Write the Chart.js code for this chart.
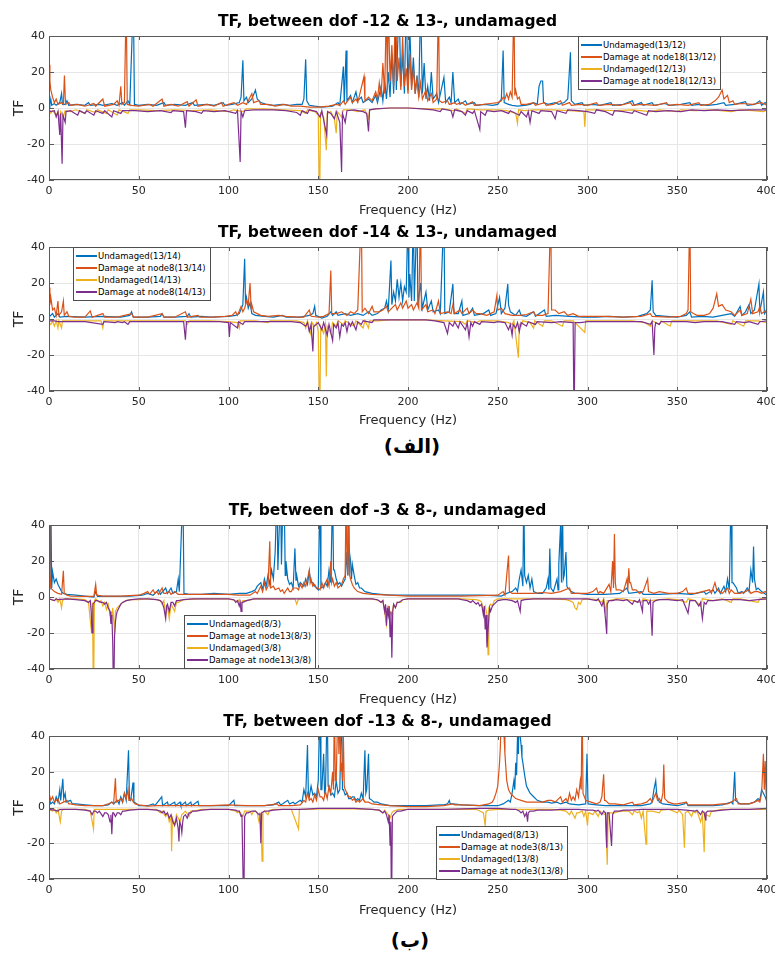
<!DOCTYPE html>
<html>
<head>
<meta charset="utf-8">
<script src="https://cdn.jsdelivr.net/npm/chart.js@4.4.1/dist/chart.umd.min.js"></script>
<style>
  body { margin: 0; background: #fff; width: 775px; height: 956px; position: relative; overflow: hidden; }
  canvas { position: absolute; left: 0; }
  .legend { position: absolute; background: #fff; border: 1px solid #4d4d4d; padding: 2px 4px 2px 2px;
            font: 8.5px "DejaVu Sans", sans-serif; color: #000; z-index: 2; }
  .row { height: 12px; line-height: 12px; white-space: nowrap; position: relative; padding-left: 22px; }
  .sw { position: absolute; left: 0; top: 5px; width: 21px; height: 2px; }
  .cap { position: absolute; width: 100px; text-align: center; font: bold 20px "DejaVu Sans", sans-serif; color: #000; }
</style>
</head>
<body>
<script>
// ---- data: flat [freq, TF, freq, TF, ...] ----
const xTicks = [0, 50, 100, 150, 200, 250, 300, 350, 400];
const yTicks = [-40, -20, 0, 20, 40];

// panel 1: dof 12 & 13
const p1Names = ['Undamaged(13/12)', 'Damage at node18(13/12)', 'Undamaged(12/13)', 'Damage at node18(12/13)'];
const p1Blue = [0,4, 0.5,2, 1,5, 1.5,1.5, 3,2.5, 4,1.5, 6,3, 7,8, 7.5,2, 9,2, 10,4, 11,1.5, 15,2, 20,1.5, 22,3, 23,1.5, 28,2, 30,1.5, 35,2.5, 38,1.5, 41,3, 42,1.5, 44,4, 45,2, 47,60, 47.6,2, 50,1.5, 55,2, 60,1.5, 64,3, 65,1.5, 70,2, 76,1.5, 80,3, 81,1.5, 88,2, 92,1.5, 97,3, 98,1.5, 102,2, 106,3, 107,6, 108,26.5, 108.6,4, 110,6, 111,3, 113,5, 115,10, 116,5, 118,3, 121,2, 125,1.5, 130,2, 134,1.5, 138,2, 141,2, 142,5, 143,27, 143.6,4, 145,1.5, 148,1, 152,0.5, 158,1, 161,3, 162,1.5, 164,23, 164.5,3, 165.5,32, 166,4, 168,7, 169,3, 171,9, 172,4, 174,6, 175,3, 178,5, 180,3, 182,7, 183,3, 185,12, 186,4, 187,15, 188,5, 189,20, 190,6, 191,30, 192,8, 193,40, 193.5,10, 195,60, 196,12, 197,30, 198,8, 199,60, 200,10, 201,45, 202,12, 203,28, 204,8, 205,18, 206,6, 207,60, 208,8, 209,25, 210,5, 211,12, 212,4, 213,20, 214,5, 216,8, 217,3, 220,17, 221,3, 223,6, 224,3, 225,20, 226,3, 228,5, 229,2, 232,4, 233,2, 237,3, 238,1.5, 243,2, 247,1.5, 250,2, 252,5, 253,32, 253.6,3, 256,2, 258,1.5, 261,1, 265,1.5, 268,2, 270,3, 272,2, 273,12, 274,15, 275,15, 275.5,3, 278,2, 282,3, 284,2, 287,3, 289,5, 290.5,31, 291,4, 293,2, 297,3, 298,1.5, 303,2, 307,1.5, 313,3, 314,1.5, 320,2, 325,4, 326,1.5, 330,3, 331,1.5, 336,3, 337,1.5, 343,2.5, 346,1.5, 352,2, 357,3, 358,1.5, 362,2, 367,1.5, 372,2, 376,3, 377,1.5, 382,2, 388,3.5, 389,1.5, 393,2, 396,4, 397,1.5, 399,3, 400,2];
const p1Orange = [0,24, 0.5,15, 1,10, 2,6, 3,3, 4,5, 5,2, 7,3, 8,2, 8.6,18, 9.2,2, 11,3, 12,1.5, 16,2, 20,1, 25,2.5, 26,1, 30,5, 31,1, 36,2, 38,4, 39,1.5, 40,12, 40.6,2, 42,3, 43,60, 43.6,2, 46,1.5, 50,1, 56,2, 58,1, 63,5, 64,1, 68,2, 72,1, 77,3.5, 78,1, 82,4.5, 83,1, 88,2, 92,1, 96,3, 97,1, 100,2, 103,3, 105,1.5, 108,3, 110,2, 113,8, 114,3, 117,4, 118,2, 122,2, 126,1, 131,2, 135,1, 140,1, 145,0.5, 150,0.5, 156,1, 160,2, 162,1.5, 164,4, 165,2, 168,6, 169,3, 171,5, 172,3, 175.5,17.5, 176,4, 178,6, 180,4, 182,9, 183,5, 184,14, 185,6, 186,25, 187,8, 188,60, 188.5,10, 189,60, 190,15, 191,35, 192,12, 193,60, 194,15, 195,28, 196,10, 197,40, 198,12, 199,22, 200,8, 201,30, 202,10, 203,22, 204,8, 205,16, 206,6, 207,14, 208,5, 210,10, 211,4, 213,8, 214,3, 216,5, 217,60, 217.5,4, 219,3, 222,4, 223,2, 226,3, 227,2, 230,3, 232,1.5, 236,3.5, 237,1.5, 242,2, 246,2.5, 250,3, 252,4, 253,6, 254,5, 255,8, 256,5, 257,9, 258,6, 259,60, 259.5,7, 260,10, 261,5, 262,6, 263,2, 266,2, 270,3, 271,1.5, 276,3, 277,1.5, 281,2, 285,4, 286,1.5, 290,3, 291,1.5, 296,2, 300,1.5, 305,3, 306,1.5, 312,2, 318,1.5, 324,3, 325,1.5, 330,2, 338,1.5, 344,3, 345,1.5, 350,2, 356,1.5, 362,3, 363,1.5, 368,2, 371,4, 373,6, 375,10, 376,5, 378,7, 379,3, 381,4, 382,2, 386,2.5, 392,2, 397,3, 400,1.5];
const p1Yellow = [0,-2, 1,-3, 2,-1.5, 4,-4, 5,-2, 6,-7, 6.5,-2, 8,-5, 9,-1.5, 12,-2, 15,-1, 20,-3, 21,-1, 26,-2.5, 27,-1, 32,-3, 33,-1, 38,-4, 39,-1, 44,-3, 45,-1, 50,-1, 60,-1.5, 70,-1, 80,-1.5, 90,-1, 100,-2, 103,-1, 108,-2, 110,-0.5, 120,-0.5, 130,-1, 140,-1.5, 143,-3, 144,-1, 148,-2, 150,-4, 150.7,-60, 151.3,-3, 153,-5, 154.5,-23.5, 155,-3, 157,-2, 159,-6, 160,-14, 160.6,-2, 163,-5, 164,-1, 168,-1, 172,-2, 176,-1, 178,-6, 178.6,-1, 182,-0.5, 190,0, 200,0, 210,-0.5, 220,-0.5, 225,-1.5, 227,-0.5, 232,-3, 233,-0.5, 240,-1, 250,-1, 255,-1.5, 260,-3, 261,-8.5, 261.6,-1, 265,-1.5, 270,-1, 280,-1, 290,-1.5, 298,-2, 298.5,-10.5, 299,-1, 305,-1, 315,-1.5, 325,-1, 335,-2, 340,-1, 350,-2, 352,-1, 360,-1.5, 370,-1, 380,-2, 385,-1, 392,-1.5, 398,-2, 400,-1];
const p1Purple = [0,-1, 1,-2, 3,-1.5, 4,-5, 5,-2, 6,-15, 6.5,-3, 7.3,-31, 7.8,-4, 9,-8, 9.5,-2, 12,-1.5, 16,-4, 17,-1.5, 20,-3, 21,-1.5, 25,-4, 26,-1.5, 30,-3, 31,-1.5, 35,-5, 36,-1.5, 40,-3, 41,-1.5, 48,-1.5, 55,-2, 62,-1.5, 68,-2.5, 69,-1.5, 75,-2, 76,-11, 76.6,-1.5, 82,-2, 85,-3, 86,-1.5, 92,-2, 98,-1.5, 104,-3, 105,-1.5, 106.5,-30, 107,-2, 108,-5, 109,-1.5, 114,-1, 118,-1, 125,-1, 132,-1.5, 138,-2.5, 140,-4, 141,-1.5, 144,-3, 145,-1, 149,-2, 151,-5, 152,-1.5, 154.7,-15, 155.2,-2, 157,-3, 159,-6, 160,-2, 162,-8, 163,-35.5, 163.5,-3, 165,-8, 166,-1.5, 170,-1, 175,-2, 177,-3, 178,-13, 178.6,-1, 182,-0.5, 190,0, 200,0, 208,-0.5, 214,-1, 218,-2, 219,-0.5, 224,-1.5, 225,-5, 226,-1, 230,-2, 232,-4, 233,-1.5, 236,-3, 237,-1.5, 240,-12, 240.5,-2, 243,-4, 244,-1.5, 248,-2, 252,-1.5, 256,-3, 257,-1.5, 262,-4, 263,-2, 266,-5, 267,-2, 268,-8, 269,-1.5, 273,-3, 274,-1.5, 280,-2, 282,-6, 283,-1.5, 288,-3, 289,-1, 295,-1.5, 300,-2, 304,-3, 305,-1, 310,-2, 314,-4, 315,-1.5, 320,-2, 325,-3, 326,-1.5, 333,-4, 334,-1.5, 338,-2, 345,-1.5, 352,-2, 358,-1, 365,-1.5, 372,-1, 380,-1.5, 390,-1, 400,-1];

// panel 2: dof 14 & 13
const p2Names = ['Undamaged(13/14)', 'Damage at node8(13/14)', 'Undamaged(14/13)', 'Damage at node8(14/13)'];
const p2Blue = [0,1, 2,3, 3,1, 5,3, 6,1, 10,1.5, 20,1, 30,1.5, 40,1, 45,2, 46,4, 47,1, 55,1, 62,1.5, 63,3, 64,1, 70,1, 77,1.5, 78,3, 79,1, 85,1.5, 90,1, 100,1.5, 104,2, 106,3, 108,8, 109,33.5, 109.5,8, 110,12, 111,6, 112,9, 113,3, 115,2, 120,1.5, 125,1, 130,2, 132,1, 140,1, 145,2, 147,3, 148,7, 148.6,2, 152,0.5, 155,1.5, 157,4, 158,2, 160,4, 161,2, 165,3, 168,2, 172,3, 175,2, 178,4, 180,2, 183,3, 185,5, 187,6, 188,10, 189,5, 190.5,32.5, 191,8, 192,15, 193,10, 194,22, 195,12, 196,20, 197,10, 198,18, 199,15, 200,60, 200.5,12, 201,25, 202,10, 203,60, 203.5,10, 205,60, 205.5,8, 207,20, 208,6, 210,15, 211,5, 213,10, 214,4, 217,5, 218,3, 220,60, 220.5,3, 223,4, 225,19.5, 225.6,3, 228,3, 230,10, 230.6,2, 234,3, 236,6, 237,2, 242,3, 245,5, 246,2, 249,3, 251,12, 252,3, 254,6, 255.6,19.5, 256,8, 257,4, 260,2, 262,5, 263,2, 266,1.5, 270,4, 271,1.5, 276,5, 277,1.5, 282,2, 290,1.5, 298,1, 305,1, 312,1.5, 320,1, 328,1.5, 333,3, 335,5, 336,21.5, 336.6,4, 338,2, 344,1.5, 350,1, 355,2, 357,4, 358,1, 364,1.5, 370,1, 375,2, 380,3, 382,1.5, 385,7, 386,2, 388,4, 390,8, 391,3, 393,5, 395.5,19.5, 396,4, 398,15, 398.6,3, 400,5];
const p2Orange = [0,17.5, 0.5,8, 1,12, 2,5, 3,6, 4,2, 5,10, 5.5,2, 7,4, 8,10, 8.5,2, 10,4, 11,1.5, 14,1, 20,1, 23,4.5, 24,1, 30,3, 31,1, 38,1, 46,3, 47,1, 55,1, 63,3, 64,1, 70,1, 76,4, 77,1, 83,2, 84,1, 92,1, 98,1.5, 102,2, 104,4, 105,2, 107,7, 108,4, 109,6, 110,10, 111,8, 112,20, 112.6,6, 113,8, 114,4, 116,3, 118,2, 122,1.5, 128,2, 132,1.5, 138,1, 142,1, 145,5, 146,1.5, 150,1, 153,1.5, 156,3, 157,27, 157.5,3, 160,3, 163,4, 166,2, 168,4, 170,3, 172,5, 174,60, 174.5,4, 176,6, 178,3, 180,7, 181,4, 184,4, 186,5, 188,7, 189,4, 191,6, 193,8, 194,5, 196,9, 197,6, 199,10, 200,6, 202,8, 203,5, 205,9, 206,6, 207,60, 207.5,5, 210,8, 211,4, 214,5, 215,3, 217,10, 218,3, 222,4, 224,3, 225,8, 226,3, 229,5, 230,3, 233,6, 234,3, 236,5, 238,3, 240,3, 244,2, 248,4, 249.5,13, 250,5, 252,6, 254,3, 258,2, 262,2, 266,2.5, 270,4, 271,2, 275,2, 278,3, 279.5,60, 280,5, 282,5, 284,3, 287,4, 289,2, 292,3, 295,1.5, 300,1.5, 310,1.5, 320,1, 330,1.5, 335,3, 336,1.5, 345,1, 352,1.5, 355,3, 356,5, 357,60, 357.5,4, 359,3, 361,2, 365,2, 368,3, 370,6, 372,14, 373,7, 375,8, 377,5, 380,4, 382,2, 385,5, 386,2, 389,3, 391,11, 392,3, 395,4, 396,7, 397,3, 400,5];
const p2Yellow = [0,-2, 1,-3, 2,-1, 3,-4, 4,-1, 5,-5, 5.5,-1, 7,-5, 7.5,-1, 10,-1, 20,-1, 29,-1, 30,-5, 30.5,-1, 40,-1, 50,-1, 60,-1, 70,-1, 76,-1, 77,-3, 78,-1, 90,-1, 100,-1.5, 105,-2, 106,-5, 106.5,-1, 115,-1, 122,-2, 123,-1, 130,-1, 138,-1, 142,-2, 143,-5, 144,-1, 146,-9, 146.6,-2, 148,-4, 149,-2, 150,-7, 150.8,-60, 151.4,-4, 153,-8, 154,-3, 154.5,-32, 155,-4, 157,-8, 158,-2, 160,-4, 161,-1, 164,-3, 165,-1, 170,-4, 171,-1, 175,-5, 176,-1, 178,-5, 178.6,-1, 183,-1, 190,-0.5, 200,-0.5, 210,-0.5, 220,-1, 230,-1.5, 232,-3, 233,-1, 238,-2, 240,-1, 250,-1, 256,-2, 258,-3, 259,-1, 261.5,-21.5, 262,-3, 263,-4, 264,-1, 268,-2, 270,-5, 270.6,-1, 275,-4, 276,-1, 280,-1, 286,-4, 287,-1, 292,-1, 298.5,-7.5, 299,-1, 305,-1, 315,-1, 325,-1, 332,-2, 335,-4, 336,-1, 340,-3, 341,-1, 346,-4, 347,-1, 355,-1, 365,-1, 372,-1, 380,-3, 381,-1, 387,-4, 388,-1, 395,-1, 400,-2];
const p2Purple = [0,-1, 3,-1, 5,-1.5, 10,-1.5, 20,-1.5, 30,-3, 30.6,-1.5, 37,-2, 38,-1.5, 41,-2, 42,-1.5, 44,-3, 45,-1.5, 55,-1.5, 65,-1.5, 75,-1.5, 76,-11.5, 76.6,-1.5, 85,-1.5, 95,-1.5, 100,-2, 100.5,-10, 101,-2, 105,-5, 105.6,-1.5, 108,-3, 109,-1.5, 115,-1.5, 125,-1.5, 135,-1.5, 140,-2, 143,-4, 144,-2, 145,-7, 146,-3, 147,-18, 147.5,-4, 149,-3, 150,-2, 152,-6, 153,-2, 155,-9, 156,-3, 158,-12, 158.6,-3, 160,-5, 161,-2, 162,-10, 163,-3, 164,-4, 165,-2, 166,-7, 167,-2, 168,-4, 169,-1.5, 171,-6, 172,-1.5, 174,-3, 175,-1, 180,-2, 181,-0.5, 190,-0.5, 200,-0.5, 210,-0.5, 215,-1, 220,-2, 222,-8, 223,-2, 225,-4, 226,-1.5, 228,-5, 229,-1.5, 232,-6, 233,-2, 234,-10, 235,-2, 236,-4, 237,-1.5, 240,-3, 241,-1.5, 248,-2, 250,-1.5, 254,-2, 256,-6, 257,-3, 258,-9, 258.6,-3, 260,-5, 261,-2, 262,-7, 263,-2, 266,-4, 267,-1.5, 271,-3, 272,-1.5, 280,-2, 285,-1.5, 292,-2, 292.5,-60, 293.1,-2, 296,-2, 300,-1.5, 310,-1.5, 320,-1.5, 330,-1.5, 335,-3, 336,-1.5, 337,-20, 337.5,-5, 338,-2, 340,-3, 341,-1.5, 350,-1.5, 355,-1.5, 360,-2, 365,-1.5, 375,-1.5, 382,-3, 383,-1.5, 388,-2, 390,-1.5, 395,-3, 396,-1.5, 400,-1];

// panel 3: dof 3 & 8
const p3Names = ['Undamaged(8/3)', 'Damage at node13(8/3)', 'Undamaged(3/8)', 'Damage at node13(3/8)'];
const p3Blue = [0,10, 0.5,4, 1,60, 1.5,5, 2,14, 3,8, 4,10, 5,7, 6,5, 7,3, 8,2, 10,1.5, 15,1, 20,0.5, 25,0, 26,3, 27,0.3, 35,0.3, 45,0.5, 52,1, 55,2, 58,1, 61,4, 62,1.5, 65,5, 66,2, 68,5, 69,2, 71,3, 72,10, 72.6,3, 74.6,60, 75.2,2, 78,1.5, 85,1.5, 92,2, 100,1.5, 106,2, 110,2, 113,3, 115,4, 116,6, 118,8, 119,4, 120,10, 121,6, 122,12, 123,7, 124,15, 125,10, 126,25, 127,60, 127.5,15, 128,30, 129,60, 129.5,18, 130,40, 131,60, 131.6,12, 132,20, 133,10, 134,7, 135,8, 136,5, 137,27, 137.6,9, 138,12, 139,6, 140,8, 142,6, 143,10, 144,7, 145,14, 146,8, 147,8, 148,6, 149,5, 150,4, 151,60, 151.5,5, 152,5, 153,6, 154,8, 155,6, 156,15, 157,8, 158,60, 158.5,15, 159,15, 160,10, 161,7, 162,8, 163,6, 164,8, 165,10, 166,25, 166.5,12, 167,28, 168,20, 168.5,10, 169,18, 170,12, 171,7, 172,8, 173,5, 174,5, 176,3, 180,2, 185,1.5, 190,1, 200,1, 210,1, 220,1, 230,1, 240,1, 248,0.8, 252,0.5, 255,2, 258,3, 260,5, 261,3, 262,10, 263,15, 264,6, 264.5,60, 265,12, 266,8, 267,12, 268,5, 269,10, 270,3, 272,2, 275,2, 277,5, 278,10, 278.5,4, 279,27, 279.6,5, 281,3, 283,10, 283.6,4, 284,18, 285,40, 285.5,8, 286,60, 286.5,10, 287,12, 288,25, 288.5,6, 289,5, 291,3, 293,2, 295,2, 300,1.5, 310,1.5, 318,2, 322,5, 323,2, 330,3, 331,1.5, 340,1.5, 350,2, 358,1.5, 365,3, 366,1.5, 370,4, 371,2, 373,5, 374,2, 376,6, 377,3, 378,10, 379,4, 380,60, 380.5,8, 381,8, 383,5, 384,2, 386,3, 387,2, 389,5, 390,3, 391,15, 392,8, 392.5,28, 393,10, 394,4, 395,5, 397,3, 400,1];
const p3Orange = [0,60, 0.5,14, 1,5, 2,4, 3,3, 5,2, 7,1.5, 8,14.6, 8.5,2, 10,1, 12,0.5, 20,0.3, 25,0.3, 26,7, 26.6,1, 30,0.5, 40,0.5, 50,1, 53,2, 55,3, 56,1.5, 58,4, 59,2, 60,3, 61,1.5, 63,5, 64,2, 65,2, 67,3, 68,1.5, 70,3, 72,1.5, 75,1.5, 80,1.5, 90,1.5, 100,1.5, 105,1, 110,1, 112,1, 115,3, 116,2, 118,6, 119,3, 120,8, 121,4, 122,6, 123,31, 123.5,5, 125,6, 126,4, 128,5, 129,3, 130,4, 131,2, 133,5, 134,3, 135,3, 136,5, 138,5, 139,4, 140,7, 141,5, 142,8, 143,6, 144,10, 145,15, 145.5,8, 146,10, 147,6, 148,7, 149,5, 150,5, 151,4, 152,8, 153,5, 155,10, 156,6, 157,20, 157.5,8, 158,10, 159,6, 160,8, 161,5, 162,6, 163,7, 164,10, 165,12, 165.5,60, 166,20, 166.5,12, 167,60, 167.5,12, 168,10, 169,7, 170,5, 171,4, 172,3, 175,2, 180,1.5, 190,1, 200,0.5, 210,0.5, 220,0.5, 230,0.5, 240,0.8, 250,1, 253,3, 254,1, 256,23, 256.5,3, 258,2, 260,2, 265,2, 270,2, 275,2.5, 280,2, 285,3, 290,5, 291,2, 295,2, 300,2, 303,3, 305,5, 306,2, 307,3, 309,2, 312,7, 313,3, 314,20, 314.5,5, 315,35, 315.5,8, 316,4, 318,4, 320,3, 322,10, 322.5,4, 323,16, 323.5,8, 324,8, 325,4, 327,4, 329,2, 331,3, 333.5,10, 334,3, 337,2, 340,3, 345,2, 350,2, 353,3, 355,5, 356,2, 360,2, 364,3, 368,4, 369,2, 371,8, 372,4, 375,2, 378,5, 379,2, 380,4, 382,2, 385,2, 388,3, 390,4, 391,2, 393,3, 395,3, 397,2, 399,3, 400,2];
const p3Yellow = [0,-1, 3,-2, 4,-1, 5,-3, 6,-1, 7,-6, 7.5,-2, 9,-1, 15,-1, 20,-1.5, 22,-3, 23.7,-20, 24.2,-3, 24.8,-60, 25.3,-2, 26,-1, 28,-3, 29,-2, 30,-5, 31,-3, 32,-7, 33,-4, 34,-10, 35,-12, 35.5,-6, 36.6,-20, 37,-8, 38,-6, 39,-5, 40,-4, 41,-3, 43,-2, 45,-1.5, 50,-1.5, 55,-1, 60,-1.5, 62,-2, 63,-4, 64,-2, 65,-10, 66,-5, 67,-12, 68,-4, 69,-6, 70,-8, 71,-3, 72,-3, 74,-2, 75,-1.5, 85,-1, 95,-1, 100,-1, 104,-2, 105,-3, 106,-1.5, 107,-5, 108,-2, 110,-2, 115,-1, 125,-1, 130,-1, 137,-1, 138,-4, 139,-1, 150,-1, 160,-1, 170,-1, 180,-1, 184,-2, 185,-3, 186,-2, 188,-15, 188.6,-5, 189,-5, 190,-8, 191,-10, 192,-4, 193,-6, 194,-3, 196,-3, 197,-1.5, 200,-1, 210,-1, 220,-1, 230,-1, 238,-1.5, 240,-2, 241,-3, 242,-8, 243,-5, 244,-10, 244.6,-32, 245,-6, 246,-4, 247,-5, 248,-2, 250,-1, 255,-1, 260,-1, 270,-1, 280,-1, 288,-1.5, 290,-2, 292,-3, 293,-6, 294,-7, 295,-3, 296,-4, 297,-1.5, 300,-1, 305,-1.5, 308,-3, 309,-1, 310,-8, 311,-2, 312,-2, 316,-1, 320,-1, 325,-2, 330,-3, 331,-1, 335,-2, 340,-1.5, 345,-1, 350,-1.5, 355,-3, 356,-1, 360,-2, 363,-5, 364,-1, 370,-2, 375,-1, 380,-3, 381,-1, 385,-1, 390,-2, 395,-3, 396,-1, 400,-1];
const p3Purple = [0,-1, 3,-2, 4,-1, 5,-1.5, 10,-1, 15,-1.5, 20,-2, 22,-3, 23,-2, 23.5,-8, 24,-20, 24.5,-4, 26,-2, 27,-2, 29,-3, 30,-3, 31,-4, 32,-3, 33,-6, 34,-8, 34.5,-15, 35,-10, 35.5,-25, 36,-60, 36.5,-22, 37,-14, 37.5,-10, 38,-8, 39,-6, 40,-4, 41,-3, 43,-2, 46,-1.5, 50,-1, 55,-1, 60,-1.5, 62,-2, 63,-3, 64,-6, 65,-12, 65.5,-5, 66,-4, 67,-8, 68,-3, 69,-3, 70,-5, 71,-2, 72,-2, 75,-1.5, 80,-1, 90,-1, 100,-1, 103,-1.5, 104,-3, 105,-2, 106,-5, 106.5,-3, 107,-8, 107.5,-3, 108,-3, 110,-2, 114,-1, 120,-1, 130,-1, 140,-1, 150,-1, 160,-1, 170,-1, 180,-1, 183,-1.5, 185,-3, 186,-2, 187,-8, 187.5,-4, 188,-16, 188.5,-6, 189,-10, 189.5,-5, 190,-22, 190.5,-8, 191,-33.7, 191.5,-8, 192,-4, 193,-6, 194,-3, 195,-3, 197,-1.5, 200,-1, 210,-1, 220,-1, 228,-1, 230,-1.5, 233,-2, 235,-3, 236,-2, 238,-4, 239,-3, 240,-5, 241,-4, 242,-10, 242.5,-5, 243,-18, 243.5,-10, 244,-28, 244.5,-20, 245,-12, 245.5,-6, 246,-8, 247,-5, 248,-4, 249,-3, 250,-2, 253,-1.5, 255,-1.5, 258,-2, 260,-3, 261,-2, 262.5,-8, 263,-2, 265,-1.5, 270,-1, 280,-1, 290,-1, 300,-1, 305,-2, 306,-1, 308,-5, 309,-2, 310,-12, 310.7,-20.5, 311,-4, 312,-2, 314,-2, 316,-1.5, 320,-2, 322,-1.5, 325,-4, 326,-2, 328,-3, 329,-1.5, 330.6,-8, 331,-2, 333,-2, 334,-4, 335,-2, 336,-21.5, 336.5,-3, 338,-2, 340,-1.5, 345,-1.5, 350,-2, 353,-1.5, 356,-9, 357,-2, 360,-2, 362,-5, 363,-3, 364,-12, 365,-3, 366,-4, 367,-2, 370,-2, 375,-1.5, 380,-1.5, 385,-1.5, 390,-2, 395,-1.5, 400,-1];

// panel 4: dof 13 & 8
const p4Names = ['Undamaged(8/13)', 'Damage at node3(8/13)', 'Undamaged(13/8)', 'Damage at node3(13/8)'];
const p4Blue = [0,5, 1,2, 2,3, 3,2, 4,6, 5,3, 6,10, 6.5,4, 7.7,16, 8.2,5, 9,8, 9.5,3, 10,3, 12,4, 13,2, 15,2, 20,1.5, 25,1, 30,1, 33,1.5, 35,3, 36,2, 38,4, 39,2, 40,6, 41,3, 42,8, 43,4, 44.3,32, 44.8,5, 45.5,4, 46.8,14, 47.3,3, 49,2, 50,1, 55,1, 58,2, 59,1, 62.8,6, 63.3,1, 66,3, 66.5,1, 70,3, 70.5,1, 73,3, 73.5,1, 76,3, 76.5,1, 79,3, 79.5,1, 83,3.5, 83.5,1, 90,1, 100,1, 103,4, 103.5,1, 110,1, 120,1, 125,1.5, 128,3, 129,1.5, 130,2, 133,4, 134,2, 136,3, 137,2, 140,4, 141,3, 142,10, 143,6, 144,35, 144.5,8, 145,6, 146,12, 147,7, 148,8, 149,6, 150,15, 151,60, 151.5,10, 152,10, 153,30, 153.5,8, 154,8, 155,60, 155.5,12, 156,12, 157,7, 158,8, 159,6, 160,15, 161,8, 162,10, 163,60, 163.5,10, 164,10, 165,7, 166,8, 167,5, 168,5, 169,6, 170,6, 171,4, 172,5, 173,4, 174,8, 175,5, 176,32, 176.5,8, 177,10, 178,30, 178.5,5, 180,4, 181,3, 183,3, 185,2, 190,1, 200,1, 210,1, 218,1.5, 220,1.5, 222,2, 223,4, 223.5,2, 225,2, 230,1.5, 240,1, 248,1, 250,1, 253,2, 256,4, 257,3, 258,8, 259,15, 259.5,10, 260,25, 260.5,18, 261,40, 261.5,30, 262,60, 262.5,40, 263,35, 263.5,28, 264,25, 265,18, 266,12, 267,10, 268,8, 270,6, 272,4, 275,3, 278,3, 280,2.5, 283,3, 285,2, 288,3, 290,2, 295,1.5, 299,2, 299.7,30, 300.3,2, 305,1.5, 310,1, 320,1, 330,1, 335,2, 336,3, 337,10, 338,15, 338.5,8, 339,6, 340,3, 342,2, 350,1, 354,2, 355,3, 356,1, 360,1, 370,1, 375,1.5, 380,3, 381,2, 382,20, 382.5,4, 385,2, 390,2, 393,3, 395,5, 396,4, 397,10, 398,8, 399,6, 400,3];
const p4Orange = [0,8, 1,4, 2,6, 3,3, 5,5, 6,2, 8,3, 10,4, 11,2, 12,2, 15,1.5, 20,1, 25,1, 30,1, 33,2, 35,3, 36,2, 37,16.4, 37.5,3, 39,4, 40,5, 41,3, 42,8, 43,5, 44,10, 44.5,4, 45,4, 46,5, 47,3, 48,2, 50,1.5, 55,0.8, 60,1, 70,1, 80,1, 90,1, 100,1.5, 110,1, 120,1, 127,2, 128,1, 135,1, 140,1.5, 142,4, 143,3, 144,8, 145,4, 146,5, 147,3, 148,7, 149,4, 150,10, 151,6, 152,6, 153,4, 154,9, 155,5, 156,12, 157,8, 158,20, 158.5,10, 159,60, 159.5,15, 160,15, 161,60, 161.5,30, 162,60, 162.5,20, 163,25, 163.5,15, 164,40, 164.5,12, 165,10, 166,8, 167,6, 168,6, 169,4, 170,5, 171,3, 172,4, 173,3, 175,5, 176,3, 178,3, 180,2, 185,1.5, 190,1, 200,0.5, 210,0.5, 220,1, 225,2, 226,1.5, 230,1.5, 240,1, 245,2, 247,3, 248,5, 249,8, 250,12, 251,25, 251.5,35, 252,60, 253,60, 253.5,40, 254,30, 255,15, 256,10, 257,8, 258,7, 260,5, 263,4, 266,3, 270,3, 275,3, 278,4, 280,4, 282,3, 285,6, 286,3, 288,5, 289,3, 290,8, 291,4, 292,6, 293,4, 294,10, 295,6, 296,15, 296.5,10, 297,60, 297.5,8, 299,4, 302,3, 305,2, 307,3, 308,6, 309,18.6, 309.5,4, 310,4, 312,2, 315,2, 320,1.5, 325,3, 326,1.5, 330,2, 333,3, 335,5, 336,3, 338,8, 339,4, 340,5, 341,3, 342,8, 342.5,24, 343,5, 345,3, 348,2, 350,2, 355,3, 356,1.5, 360,1.5, 365,1.5, 370,1.5, 375,2, 378,2, 380,3, 383,5, 384,2, 385,2, 390,2, 393,3, 395,4, 396,3, 397,8, 398,30, 398.5,10, 399,26, 399.5,8, 400,5];
const p4Yellow = [0,-1, 2,-2, 3,-1, 4,-3, 5,-1, 6.3,-8, 7,-2, 8,-1, 10,-1, 15,-1, 20,-1, 23,-2, 24.8,-12, 25.2,-1, 30,-1, 35,-1, 40,-1, 50,-1, 60,-1, 62,-3, 63,-2, 65,-5, 66,-3, 67,-8, 68,-6, 68.3,-24.5, 68.8,-6, 69.5,-8, 70,-10, 71,-4, 72,-6, 73,-8, 74,-4, 75,-3, 76,-2, 78,-5, 79,-2, 80,-2, 83,-1.5, 85,-1, 90,-1, 100,-1, 104,-2, 105,-3, 106,-2, 108,-5, 109,-2, 110,-2, 112,-2, 113,-4, 114,-2, 115,-2, 116,-3, 117,-8, 118,-4, 118.7,-30, 119.2,-3, 120,-2, 122,-4, 123,-1.5, 125,-1, 130,-1, 135,-1, 139,-12, 139.5,-1, 145,-1, 150,-0.8, 160,-0.8, 170,-0.8, 180,-1, 184,-1.5, 186,-3, 187,-1.5, 189,-4, 190,-6, 191,-3, 192,-2, 195,-1, 200,-1, 210,-1, 220,-1, 230,-1, 238,-1, 240,-2, 242,-3, 243,-10, 243.5,-2, 245,-1.5, 250,-1, 260,-1, 270,-1, 280,-1, 285,-1.5, 288,-2, 290,-4, 291,-2, 293,-6, 294,-3, 295,-3, 297,-2, 298,-5, 299,-2, 300,-10, 300.5,-3, 301,-3, 303,-4, 304,-2, 306,-5, 307,-2, 308,-3, 310,-4, 311,-32, 311.5,-3, 313,-3, 315,-3, 318,-2, 320,-2, 323,-2, 325,-4, 326,-2, 328,-3, 329,-2, 330,-6, 331,-2, 332.6,-20.5, 333,-2, 336,-2, 340,-3, 341,-1.5, 345,-1, 348,-2, 350,-3, 351,-1.5, 353,-4, 354,-22.5, 354.5,-3, 356,-2, 358,-5, 359,-2, 360,-3, 361,-2, 363,-8, 364,-4, 365,-25, 365.5,-3, 366,-4, 368,-5, 369,-2, 370,-2, 375,-1, 380,-1, 385,-1, 390,-1, 395,-1, 400,-1];
const p4Purple = [0,-1, 3,-1.5, 5,-2, 6,-1, 10,-1, 15,-1, 20,-1.5, 23,-2, 24,-4, 25,-2, 26,-2, 27,-3, 28,-2, 30,-5, 31,-3, 32,-3, 33,-4, 34,-8, 34.5,-4, 35,-15, 35.5,-3, 36,-3, 37,-5, 38,-3, 39,-3, 40,-4, 41,-2, 42,-2, 45,-1.5, 50,-1, 55,-1, 60,-1.5, 62,-2, 63,-3, 64,-2, 65,-4, 66,-3, 67,-6, 68,-4, 69,-8, 70,-10, 71,-6, 72,-12, 72.4,-19, 72.8,-8, 73.5,-10, 74,-14, 74.5,-8, 75,-5, 76,-4, 77,-6, 78,-3, 79,-3, 80,-2, 82,-2, 85,-1.5, 90,-1, 100,-1, 104,-1.5, 105,-2, 106,-2, 107,-5, 107.5,-4, 108,-33, 108.5,-60, 109,-5, 110,-3, 111,-3, 113,-2, 115,-2, 116,-3, 117,-4, 117.5,-3, 118,-20, 118.5,-3, 120,-2, 122,-2, 125,-1.5, 130,-1, 140,-1, 150,-0.5, 160,-0.5, 170,-0.5, 180,-1, 184,-1.5, 186,-3, 187,-2, 188,-4, 189,-8, 189.5,-4, 190,-21, 190.4,-8, 190.8,-60, 191.3,-5, 192,-4, 193,-3, 194,-2, 196,-2, 198,-1.5, 200,-1, 210,-1, 220,-1, 230,-0.8, 240,-0.5, 250,-0.5, 258,-1, 260,-1, 262,-2, 263,-3, 264,-2, 265,-5, 266,-3, 266.6,-8, 267,-3, 268,-2, 270,-2, 272,-1.5, 275,-1.5, 280,-1.5, 285,-1, 290,-1, 295,-1, 300,-1.5, 303,-1.5, 305,-2, 306,-1.5, 308,-4, 309,-2, 310,-3, 310.7,-22.5, 311,-3, 312,-3, 313.4,-21.5, 314,-4, 315,-2, 318,-2, 320,-1.5, 325,-1.5, 330,-1, 340,-1, 345,-1, 350,-1, 355,-1.5, 360,-2, 361,-1.5, 363,-4, 364,-2, 365,-3, 365.8,-7, 366,-3, 367,-2, 370,-2, 375,-1.5, 380,-1, 390,-1, 400,-0.5];

const colors = ['#0072BD', '#D95319', '#EDB120', '#7E2F8E'];
const FONT = '"DejaVu Sans", sans-serif';

// layout of the four panels (pixel positions in the page)
const panels = [
  { title: 'TF, between dof -12 & 13-, undamaged', top: 36, bottom: 180, xlab: 210, legend: [578, 36],
    names: p1Names, series: [p1Blue, p1Orange, p1Yellow, p1Purple] },
  { title: 'TF, between dof -14 & 13-, undamaged', top: 247, bottom: 391, xlab: 420, legend: [73, 247],
    names: p2Names, series: [p2Blue, p2Orange, p2Yellow, p2Purple] },
  { title: 'TF, between dof -3 & 8-, undamaged', top: 525, bottom: 669, xlab: 699, legend: [184, 615],
    names: p3Names, series: [p3Blue, p3Orange, p3Yellow, p3Purple] },
  { title: 'TF, between dof -13 & 8-, undamaged', top: 736, bottom: 879, xlab: 910, legend: [436, 826],
    names: p4Names, series: [p4Blue, p4Orange, p4Yellow, p4Purple] }
];

function toPoints(flat) {
  const pts = [];
  for (let i = 0; i < flat.length; i += 2) pts.push({ x: flat[i], y: flat[i + 1] });
  return pts;
}

// matlab-like box with inward ticks
const boxPlugin = {
  id: 'box',
  afterDraw(chart) {
    const { ctx, chartArea: a, scales: { x, y } } = chart;
    ctx.save();
    ctx.strokeStyle = '#5a5a5a';
    ctx.lineWidth = 1;
    ctx.strokeRect(a.left + 0.5, a.top + 0.5, a.width - 1, a.height - 1);
    ctx.beginPath();
    xTicks.forEach(v => {
      const px = Math.round(x.getPixelForValue(v)) + 0.5;
      ctx.moveTo(px, a.bottom); ctx.lineTo(px, a.bottom - 4);
      ctx.moveTo(px, a.top); ctx.lineTo(px, a.top + 4);
    });
    yTicks.forEach(v => {
      const py = Math.round(y.getPixelForValue(v)) + 0.5;
      ctx.moveTo(a.left, py); ctx.lineTo(a.left + 5, py);
      ctx.moveTo(a.right, py); ctx.lineTo(a.right - 5, py);
    });
    ctx.stroke();
    ctx.restore();
  }
};

panels.forEach((p, k) => {
  const axisH = p.xlab - p.bottom + 12;
  const cv = document.createElement('canvas');
  cv.width = 775;
  cv.height = p.bottom - p.top + 36 + axisH;
  cv.style.top = (p.top - 36) + 'px';
  document.body.appendChild(cv);

  new Chart(cv.getContext('2d'), {
    type: 'line',
    data: {
      datasets: p.series.map((s, i) => ({
        label: p.names[i],
        data: toPoints(s),
        borderColor: colors[i],
        borderWidth: 1.2,
        pointRadius: 0,
        tension: 0,
        order: 4 - i
      }))
    },
    options: {
      responsive: false,
      animation: false,
      events: [],
      layout: { padding: 0 },
      plugins: {
        legend: { display: false },
        tooltip: { enabled: false },
        title: {
          display: true, text: p.title, color: '#000',
          font: { family: FONT, size: 15.5, weight: 'bold' },
          padding: { top: 12.7, bottom: 4.7 }
        }
      },
      scales: {
        x: {
          type: 'linear', min: 0, max: 400,
          afterBuildTicks: s => { s.ticks = xTicks.map(v => ({ value: v })); },
          afterFit: s => { s.height = axisH; s.paddingRight = 8; },
          ticks: { color: '#262626', font: { family: FONT, size: 11 }, padding: 5, maxRotation: 0 },
          grid: { color: '#e6e6e6', drawTicks: false },
          border: { display: false },
          title: { display: true, text: 'Frequency (Hz)', color: '#262626',
                   font: { family: FONT, size: 13 }, padding: { top: 0, bottom: 4 } }
        },
        y: {
          min: -40, max: 40,
          afterBuildTicks: s => { s.ticks = yTicks.map(v => ({ value: v })); },
          afterFit: s => { s.width = 49; },
          ticks: { color: '#262626', font: { family: FONT, size: 11 }, padding: 4 },
          grid: { color: '#e6e6e6', drawTicks: false },
          border: { display: false },
          title: { display: true, text: 'TF', color: '#262626',
                   font: { family: FONT, size: 14 }, padding: { top: 11, bottom: 0 } }
        }
      }
    },
    plugins: [boxPlugin]
  });

  // legend box inside the axes
  const box = document.createElement('div');
  box.className = 'legend';
  box.style.left = p.legend[0] + 'px';
  box.style.top = p.legend[1] + 'px';
  p.names.forEach((n, i) => {
    const row = document.createElement('div');
    row.className = 'row';
    const sw = document.createElement('span');
    sw.className = 'sw';
    sw.style.background = colors[i];
    row.appendChild(sw);
    row.appendChild(document.createTextNode(n));
    box.appendChild(row);
  });
  document.body.appendChild(box);
});

// sub-figure captions
[['(الف)', 362, 434], ['(ب)', 360, 928]].forEach(([t, l, tp]) => {
  const d = document.createElement('div');
  d.className = 'cap';
  d.dir = 'rtl';
  d.style.left = l + 'px';
  d.style.top = tp + 'px';
  d.textContent = t;
  document.body.appendChild(d);
});
</script>
</body>
</html>
